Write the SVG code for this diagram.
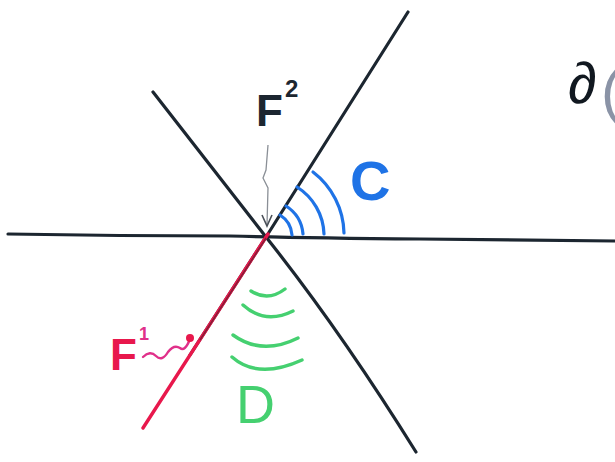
<svg xmlns="http://www.w3.org/2000/svg" width="615" height="462" viewBox="0 0 615 462">
<style>
.ln{fill:none;stroke:#1c2630;stroke-width:3.2;stroke-linecap:round;stroke-linejoin:round}
.arcC{fill:none;stroke:#1f73e6;stroke-width:3.2;stroke-linecap:round}
.arcD{fill:none;stroke:#45d070;stroke-width:3.4;stroke-linecap:round}
.lbl{font-family:"Liberation Sans",Arial,sans-serif}
</style>
<rect width="615" height="462" fill="#ffffff"/>
<g id="connectors">
  <path class="ln" d="M8,234 Q120,236 230,236 Q300,238 420,239 L615,241"/>
  <path class="ln" d="M408,12 L266,237 L190,355"/>
  <path class="ln" d="M153,92 L266,237 Q340,330 416,452"/>
  <path d="M268,234 L143,428" fill="none" stroke="#e8184c" stroke-width="3.4" stroke-linecap="round"/>
  <path d="M266,238 L200,340" fill="none" stroke="#5a1f2e" stroke-width="1.4" opacity="0.7"/>
  <path d="M268,145 L266,170 L263,178 L268,188 L267,225" fill="none" stroke="#8a8f96" stroke-width="1.3"/>
  <path d="M262,215 L267,226 L272,215" fill="none" stroke="#4a5058" stroke-width="1.6"/>
  <path d="M143,357 Q150,350 156,356 Q162,362 168,352 Q174,344 180,348 Q185,352 190,339" fill="none" stroke="#e0308a" stroke-width="2.4" stroke-linecap="round"/>
  <circle cx="190" cy="338" r="4" fill="#e8184c"/>
</g>
<g id="C">
  <path class="arcC" d="M280,215 A26,26 0 0 1 292,235"/>
  <path class="arcC" d="M286,206 A37,37 0 0 1 303,234"/>
  <path class="arcC" d="M297,187 A58,58 0 0 1 324,234"/>
  <path class="arcC" d="M313,172 A79,79 0 0 1 344,233"/>
  <text class="lbl" x="350" y="200" font-size="56" font-weight="bold" fill="#1f73e6">C</text>
</g>
<g id="D">
  <path class="arcD" d="M251,291 Q268,302 285,289"/>
  <path class="arcD" d="M243,305 Q265,325 293,311"/>
  <path class="arcD" d="M233,335 Q262,356 298,338"/>
  <path class="arcD" d="M232,357 Q258,380 302,360"/>
  <text class="lbl" x="236" y="423" font-size="54" fill="#45d070">D</text>
</g>
<g id="F2">
  <text class="lbl" x="256" y="126" font-size="44" font-weight="bold" fill="#1c2630">F</text>
  <text class="lbl" x="285" y="97" font-size="24" font-weight="bold" fill="#1c2630">2</text>
</g>
<g id="F1">
  <text class="lbl" x="110" y="370" font-size="44" font-weight="bold" fill="#e8184c">F</text>
  <text class="lbl" x="139" y="340" font-size="18" font-weight="bold" fill="#e0308a">1</text>
</g>
<g id="partial">
  <text class="lbl" x="568" y="103" font-size="58" fill="#111820">∂</text>
  <text class="lbl" x="601" y="112" font-size="60" fill="#8a93a6">(</text>
</g>
</svg>
